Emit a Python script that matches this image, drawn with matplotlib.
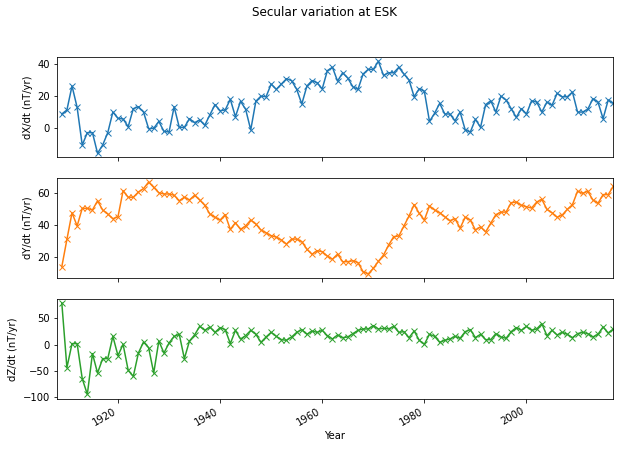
import numpy as np
import matplotlib
matplotlib.use("Agg")
import matplotlib.pyplot as plt

years = list(range(1909, 2018))

dX = [8.9, 11.4, 26.3, 13.0, -10.4, -2.7, -2.7, -15.5, -10.4, -2.7,
      10.1, 6.2, 5.8, 1.0, 12.2, 13.4, 10.1, -0.2, 0.0, 4.3,
      -1.9, -2.3, 13.4, 0.6, 0.6, 6.0, 3.5, 5.2, 1.9, 8.4,
      14.7, 10.9, 11.4, 18.0, 7.2, 16.8, 11.8, -1.0, 16.8, 20.0,
      19.6, 27.5, 24.2, 27.5, 30.8, 29.6, 24.2, 15.1, 26.3, 29.6,
      28.3,
      24.5, 35.8, 37.9, 29.3, 34.5, 31.2, 25.8, 24.2, 33.7, 36.6,
      36.6, 41.6, 32.9, 34.5, 34.5, 37.9, 33.7, 30.0, 19.6, 24.6,
      23.0, 4.3, 9.3, 15.5, 8.9, 8.9, 4.7, 10.1, -1.0, -2.3,
      5.6, 0.6, 14.7, 17.1, 10.1, 20.0, 17.6, 12.2, 6.8, 12.2,
      8.9, 17.1, 16.3, 10.1, 16.3, 14.3, 21.7, 19.6, 19.6, 22.5,
      10.1, 10.1, 11.8, 18.4, 16.3, 6.0, 17.6, 15.5]

dY = [14.2, 31.1, 47.6, 39.4, 50.3, 50.3, 49.3, 55.0, 49.3, 46.8,
      43.9, 45.1, 61.2, 57.2, 57.2, 60.4, 62.5, 66.6, 63.3, 60.0,
      59.2, 59.2, 58.4, 55.0, 57.2, 55.5, 58.4, 55.5, 52.2, 46.8,
      44.8, 43.1, 46.4, 37.3, 41.4, 37.3, 39.4, 43.1, 40.6, 36.9,
      35.2, 33.4, 32.5, 30.7, 28.2, 31.3, 31.3, 29.7, 25.0, 21.9,
      24.1,
      23.5, 20.8, 18.8, 22.0, 17.3, 17.3, 17.9, 16.7, 11.1, 9.7,
      13.2, 17.5, 21.4, 27.6, 32.8, 33.2, 39.4, 45.6, 52.6, 47.2,
      43.1, 51.8, 49.3, 47.6, 45.1, 42.7, 43.9, 38.1, 44.8, 43.1,
      36.9, 38.9, 35.7, 41.1, 46.4, 48.0, 48.0, 53.8, 54.2, 52.2,
      51.3, 50.5, 54.2, 55.9, 49.7, 47.6, 44.8, 46.2, 49.7, 52.6,
      60.9, 59.6, 60.9, 55.5, 53.4, 58.8, 58.8, 63.9]

dZ = [79.0, -43.7, 1.9, 1.9, -64.6, -94.3, -17.1, -53.9, -26.6, -26.6,
      15.7, -20.9, 0.6, -48.8, -60.2, -15.9, 5.0, -5.7, -53.9, 6.9,
      -15.9, 3.1, 15.7, 19.6, -26.6, 6.9, 18.3, 34.7, 27.1, 33.4,
      23.3, 32.2, 28.4, 1.9, 27.1, 10.6, 17.0, 27.1, 19.6, 4.4,
      14.5, 23.3, 15.7, 9.5, 8.2, 14.5, 23.3, 28.4, 19.6, 25.8,
      23.3,
      27.1, 17.0, 10.7, 18.3, 13.2, 14.5, 20.8, 27.1, 29.7, 29.7,
      36.0, 29.7, 30.9, 29.7, 34.7, 23.3, 24.6, 13.2, 25.9, 8.2,
      0.6, 19.6, 15.7, 4.4, 8.2, 10.7, 15.7, 12.0, 24.6, 28.4,
      13.2, 19.6, 9.4, 9.4, 20.8, 14.5, 12.0, 24.6, 32.2, 27.1,
      34.7, 27.1, 29.7, 39.8, 17.0, 27.1, 18.3, 23.3, 19.6, 13.2,
      20.8, 23.3, 20.8, 14.5, 19.6, 33.5, 22.1, 29.7]

ylabels = ["dX/dt (nT/yr)", "dY/dt (nT/yr)", "dZ/dt (nT/yr)"]
colors = ["C0", "C1", "C2"]
ylims = [(-18.0, 44.1), (7.4, 68.9), (-103.2, 86.0)]
xticks = [1920, 1940, 1960, 1980, 2000]

plt.rcParams['font.size'] = 10
plt.rcParams['font.family'] = ['DejaVu Sans']

W, H = 620, 449
fig = plt.figure(figsize=(W / 72, H / 72), dpi=72)

left = 56.7 / W
width = (613.3 - 56.7) / W
tops = [57.3, 178.3, 299.3]
bots = [157.3, 277.7, 399.0]

series = [dX, dY, dZ]
axes = []
for i in range(3):
    ax = fig.add_axes([left, 1 - bots[i] / H, width, (bots[i] - tops[i]) / H])
    ax.plot(years, series[i], marker='x', linestyle='-', color=colors[i])
    ax.set_xlim(1908, 2017)
    ax.set_ylim(*ylims[i])
    ax.set_xticks(xticks)
    ax.set_ylabel(ylabels[i])
    if i < 2:
        ax.tick_params(labelbottom=False)
    else:
        ax.set_xticklabels([str(t) for t in xticks], rotation=30, ha='right')
        ax.set_xlabel("Year")
    axes.append(ax)

fig.align_ylabels(axes)
fig.text(325.0 / W, 1 - 12 / H, "Secular variation at ESK", ha='center', va='center', fontsize=12)

fig.savefig("out.png", dpi=72)
